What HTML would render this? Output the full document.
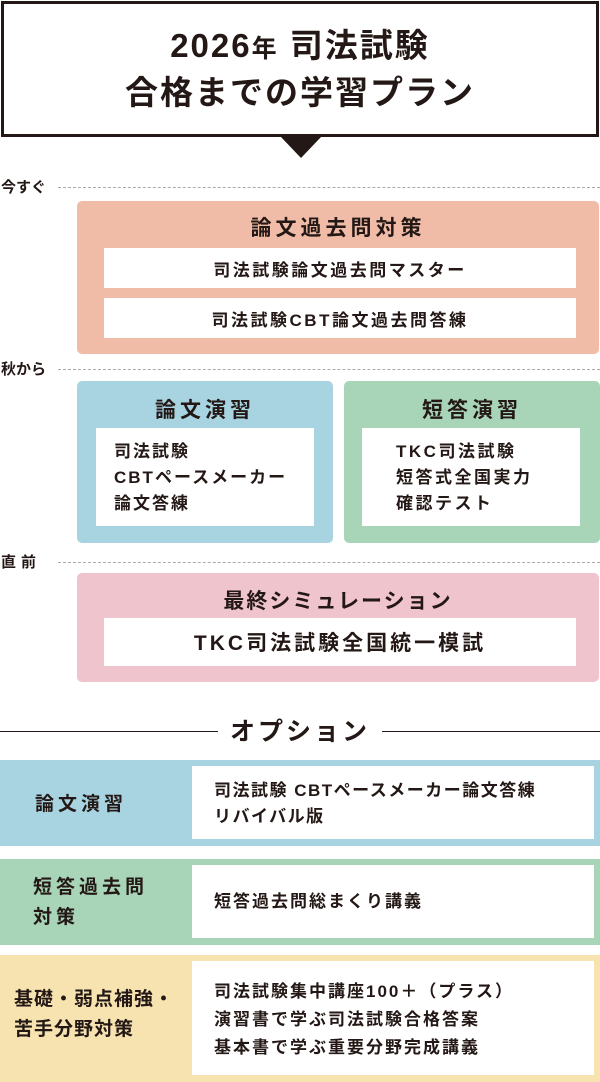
<!DOCTYPE html>
<html><head><meta charset="utf-8"><style>
*{margin:0;padding:0;box-sizing:border-box}
body{width:600px;height:1082px;background:#fff;position:relative;overflow:hidden;font-family:"Liberation Sans","Noto Sans CJK JP",sans-serif;color:#231815;font-weight:bold}
.a{position:absolute}
.c{display:flex;align-items:center;justify-content:center;text-align:center}
.w{background:#fff}
.dash{position:absolute;left:58px;right:0;border-top:1.5px dashed #aaa}
.lbl{position:absolute;left:1px;font-size:15px}
.b{font-size:17px;letter-spacing:2.5px}
.h{font-size:21px;letter-spacing:4px}
</style></head><body>
<div class="a c" style="left:1px;top:1px;width:598px;height:136px;border:3px solid #231815;flex-direction:column;font-size:33px;line-height:44px;letter-spacing:2px">
<div>2026<span style="font-size:25px">年</span> 司法試験</div><div>合格までの学習プラン</div></div>
<div class="a" style="left:281px;top:137px;width:0;height:0;border-left:20px solid transparent;border-right:20px solid transparent;border-top:21px solid #231815"></div>

<div class="lbl" style="top:176px">今すぐ</div><div class="dash" style="top:187px"></div>
<div class="a" style="left:77px;top:201px;width:522px;height:153px;background:#f0bca8;border-radius:5px"></div>
<div class="a c h" style="left:77px;top:212px;width:522px;height:30px">論文過去問対策</div>
<div class="a c w b" style="left:104px;top:248px;width:472px;height:40px">司法試験論文過去問マスター</div>
<div class="a c w b" style="left:104px;top:298px;width:472px;height:40px">司法試験CBT論文過去問答練</div>

<div class="lbl" style="top:358px">秋から</div><div class="dash" style="top:369px"></div>
<div class="a" style="left:77px;top:381px;width:256px;height:162px;background:#a8d4e2;border-radius:5px"></div>
<div class="a c h" style="left:77px;top:394px;width:256px;height:30px">論文演習</div>
<div class="a w b" style="left:96px;top:428px;width:218px;height:98px;padding:11px 0 0 18px;line-height:26px;letter-spacing:2px">司法試験<br>CBTペースメーカー<br>論文答練</div>
<div class="a" style="left:344px;top:381px;width:256px;height:162px;background:#a8d4b8;border-radius:5px"></div>
<div class="a c h" style="left:344px;top:394px;width:256px;height:30px">短答演習</div>
<div class="a w b" style="left:362px;top:428px;width:218px;height:98px;padding:11px 0 0 34px;line-height:26px">TKC司法試験<br>短答式全国実力<br>確認テスト</div>

<div class="lbl" style="top:551px;letter-spacing:5px">直前</div><div class="dash" style="top:562px"></div>
<div class="a" style="left:77px;top:573px;width:522px;height:109px;background:#f0c4cc;border-radius:5px"></div>
<div class="a c h" style="left:77px;top:585px;width:522px;height:30px;letter-spacing:2px">最終シミュレーション</div>
<div class="a c w" style="left:104px;top:618px;width:472px;height:48px;font-size:21px;letter-spacing:3px">TKC司法試験全国統一模試</div>

<div class="a" style="left:0;top:731px;width:218px;border-top:1.5px solid #231815"></div>
<div class="a" style="left:382px;top:731px;width:218px;border-top:1.5px solid #231815"></div>
<div class="a c" style="left:218px;top:713px;width:164px;height:34px;font-size:25px;letter-spacing:3px">オプション</div>

<div class="a" style="left:0;top:760px;width:600px;height:86px;background:#a8d4e2"></div>
<div class="a" style="left:35px;top:789px;font-size:19px;letter-spacing:4px">論文演習</div>
<div class="a w b" style="left:192px;top:766px;width:402px;height:73px;padding:12px 0 0 22px;line-height:26px;letter-spacing:1.5px">司法試験 CBTペースメーカー論文答練<br>リバイバル版</div>

<div class="a" style="left:0;top:859px;width:600px;height:86px;background:#a8d4b8"></div>
<div class="a" style="left:33px;top:873px;font-size:19px;line-height:30px;letter-spacing:4px">短答過去問<br>対策</div>
<div class="a w b" style="left:192px;top:865px;width:402px;height:73px;padding:0 0 0 22px;line-height:73px;letter-spacing:2px">短答過去問総まくり講義</div>

<div class="a" style="left:0;top:955px;width:600px;height:127px;background:#f7e3b0"></div>
<div class="a" style="left:14px;top:985px;font-size:19px;line-height:30px;letter-spacing:1px">基礎・弱点補強・<br>苦手分野対策</div>
<div class="a w b" style="left:192px;top:961px;width:402px;height:114px;padding:17px 0 0 22px;line-height:28px;letter-spacing:2px">司法試験集中講座100＋（プラス）<br>演習書で学ぶ司法試験合格答案<br>基本書で学ぶ重要分野完成講義</div>
</body></html>
